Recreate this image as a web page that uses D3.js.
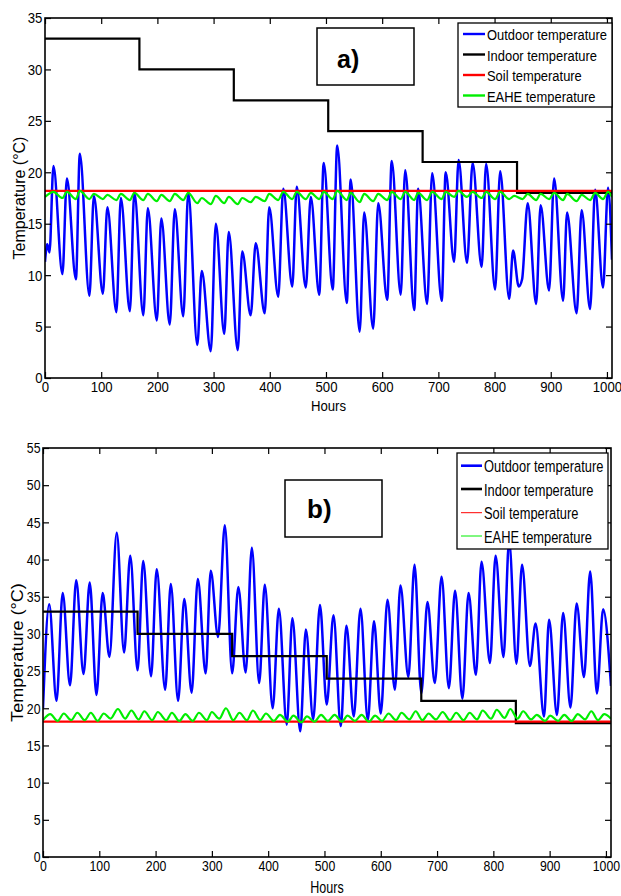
<!DOCTYPE html>
<html><head><meta charset="utf-8">
<script src="https://cdn.jsdelivr.net/npm/d3@7"></script>
<style>body{margin:0;background:#fff} svg{display:block}</style>
</head><body><svg id="c" width="621" height="896"></svg>
<script>
// ---------------- DATA ----------------
const xTicks = [0,100,200,300,400,500,600,700,800,900,1000];
const yTicksA = [0,5,10,15,20,25,30,35];
const yTicksB = [0,5,10,15,20,25,30,35,40,45,50,55];
const seriesNames = ["Outdoor temperature","Indoor temperature","Soil temperature","EAHE temperature"];

// Indoor set-point steps (same in both panels)
const indoorHours = [0,168,336,504,672,840,1009];
const indoorTemps = [33,30,27,24,21,18,18];

// Panel a) – outdoor temperature (daily extrema read from the figure)
const outdoorAHours = [0,4,8,15,31,39,55,62,79,87,103,111,127,135,151,159,175,183,199,207,222,231,246,255,271,279,295,304,319,327,343,351,366,375,391,399,415,424,440,448,464,473,488,496,512,520,537,544,560,568,584,593,609,617,633,641,657,664,680,689,706,713,728,736,751,761,777,785,801,810,826,833,843,849,859,874,882,897,906,922,929,946,955,970,979,993,1002,1009];
const outdoorATemps = [11.3,13.0,12.2,20.6,10.1,19.4,9.6,21.8,8.0,17.7,8.2,16.6,6.4,17.5,6.5,18.0,6.1,16.5,5.6,15.5,5.2,16.4,6.0,18.0,3.2,10.4,2.6,15.0,4.3,14.2,2.7,12.3,6.1,13.1,6.3,16.6,7.9,18.4,8.9,18.6,8.8,17.6,8.1,20.9,8.6,22.6,7.3,19.3,4.5,16.1,4.8,17.0,7.6,21.1,8.1,20.2,6.6,18.4,7.2,19.9,7.5,20.0,11.3,21.2,11.2,20.9,10.8,20.8,8.6,20.1,7.7,12.4,8.9,9.6,17.0,7.2,16.8,8.5,19.4,7.5,16.1,6.3,16.3,6.7,18.3,8.8,18.5,11.5];
const eaheAHours = [0,15,31,39,55,62,79,87,103,111,127,135,151,159,175,183,199,207,222,231,246,255,271,279,295,304,319,327,343,351,366,375,391,399,415,424,440,448,464,473,488,496,512,520,537,544,560,568,584,593,609,617,633,641,657,664,680,689,706,713,728,736,751,761,777,785,801,810,826,835,850,859,874,882,897,906,922,929,946,955,970,979,993,1002,1009];
const eaheATemps = [17.6,18.1,17.5,18.1,17.4,18.2,17.4,17.9,17.4,17.8,17.3,17.9,17.3,18.0,17.3,17.9,17.2,17.8,17.2,17.9,17.3,18.0,17.0,17.5,16.9,17.7,17.0,17.6,16.9,17.5,17.1,17.6,17.2,17.9,17.3,18.1,17.4,18.1,17.4,18.0,17.4,18.1,17.4,18.2,17.3,18.0,17.1,17.9,17.2,17.9,17.3,18.1,17.4,18.1,17.3,18.0,17.3,18.1,17.4,18.1,17.6,18.2,17.6,18.1,17.5,18.1,17.4,18.1,17.4,17.7,17.4,17.9,17.3,17.9,17.4,18.0,17.3,17.9,17.2,17.8,17.3,18.0,17.4,18.1,17.6];
const soilA = 18.2;

// Panel b)
const outdoorBHours = [0,11,24,35,48,59,72,83,95,106,118,131,144,155,168,178,192,202,217,227,240,251,264,275,289,298,311,323,336,347,360,371,384,394,408,419,433,443,457,467,480,492,504,516,529,539,552,564,577,588,600,612,625,635,649,660,672,683,696,708,721,732,745,756,769,779,794,804,818,828,841,851,865,875,890,899,913,924,937,948,961,972,984,995,1009];
const outdoorBTemps = [20.0,34.0,21.0,35.5,23.1,37.2,24.6,36.9,21.8,35.5,26.9,43.6,27.5,40.5,25.1,39.8,24.3,38.7,22.5,36.7,21.0,34.7,22.1,37.4,24.7,38.5,29.6,44.6,24.7,36.3,24.8,41.6,23.4,36.6,20.0,33.4,17.8,32.1,16.9,30.6,18.5,33.9,20.5,32.5,17.6,31.1,18.9,33.4,18.4,31.7,19.3,34.6,22.5,36.5,24.2,39.3,22.0,34.3,23.4,37.7,22.7,35.8,21.3,35.5,24.5,39.7,26.1,40.5,26.9,42.5,26.0,39.3,25.7,31.4,18.9,31.9,19.1,32.8,20.1,34.1,24.2,38.4,22.0,33.3,23.0];
const eaheBHours = [0,13,26,37,50,61,74,85,97,108,120,133,146,157,170,180,194,204,219,229,242,253,266,277,291,300,313,325,338,349,362,373,386,396,410,421,435,445,459,469,482,494,506,518,531,541,554,566,579,590,602,614,627,637,651,662,674,685,698,710,723,734,747,758,771,781,796,806,820,830,843,853,867,877,892,901,915,926,939,950,963,974,986,997,1009];
const eaheBTemps = [18.4,19.2,18.3,19.3,18.4,19.4,18.4,19.4,18.3,19.3,18.6,19.9,18.6,19.7,18.5,19.6,18.4,19.5,18.4,19.4,18.3,19.2,18.3,19.4,18.4,19.5,18.6,20.0,18.4,19.4,18.4,19.7,18.4,19.3,18.3,19.1,18.2,19.0,18.1,18.9,18.2,19.1,18.3,19.1,18.2,19.0,18.3,19.1,18.2,19.0,18.3,19.3,18.4,19.4,18.5,19.6,18.4,19.3,18.5,19.5,18.4,19.4,18.4,19.4,18.5,19.7,18.6,19.8,18.7,19.9,18.6,19.6,18.5,19.1,18.3,19.0,18.3,19.1,18.3,19.2,18.5,19.6,18.4,19.2,18.6];
const soilB = 18.2;

// ---------------- DRAWING ----------------
const FONT = '"Liberation Sans", Arial, Helvetica, sans-serif';
const colors = ["#0000ff","#000000","#ff0000","#00ee00"];
const svg = d3.select('#c');
svg.append('rect').attr('width',621).attr('height',896).attr('fill','#fff');

function txt(g, x, y, s, size, sx, opt={}) {
  return g.append('text')
    .attr('transform', `translate(${x},${y}) scale(${sx},${opt.sy||1})` + (opt.rot ? ` rotate(${opt.rot})` : ''))
    .attr('font-family', FONT).attr('font-size', size)
    .attr('font-weight', opt.bold ? 'bold' : 'normal')
    .attr('text-anchor', opt.anchor || 'start')
    .attr('fill', '#000').text(s);
}

function panel(c) {
  const x = d3.scaleLinear([0,1009],[c.l,c.r]);
  const y = d3.scaleLinear([0,c.ymax],[c.b,c.t]);
  const g = svg.append('g');
  const id = 'clip' + c.name;
  g.append('clipPath').attr('id', id).append('rect')
    .attr('x', c.l).attr('y', c.t).attr('width', c.r - c.l).attr('height', c.b - c.t);

  const line = d3.line().x(d => x(d[0])).y(d => y(d[1])).curve(d3.curveMonotoneX);
  const stepLine = d3.line().x(d => x(d[0])).y(d => y(d[1])).curve(d3.curveStepAfter);
  const plot = g.append('g').attr('clip-path', `url(#${id})`);
  const soilPts = [[0,c.soil],[1009,c.soil]];

  plot.append('path').attr('d', line(d3.zip(c.oh, c.ot)))
    .attr('fill','none').attr('stroke',colors[0]).attr('stroke-width',2.5).attr('stroke-linejoin','round');
  plot.append('path').attr('d', stepLine(d3.zip(indoorHours, indoorTemps)))
    .attr('fill','none').attr('stroke',colors[1]).attr('stroke-width',2.2);
  plot.append('path').attr('d', d3.line().x(d=>x(d[0])).y(d=>y(d[1]))(soilPts))
    .attr('fill','none').attr('stroke',colors[2]).attr('stroke-width',2.2);
  plot.append('path').attr('d', line(d3.zip(c.eh, c.et)))
    .attr('fill','none').attr('stroke',colors[3]).attr('stroke-width',2.2).attr('stroke-linejoin','round');

  // axes (ticks inward on all four sides)
  const styleAxis = (sel) => {
    sel.select('.domain').remove();
    sel.selectAll('.tick line').attr('stroke','#000').attr('stroke-width',1.2);
  };
  const fmt = d3.format('d');
  const bx = g.append('g').attr('transform',`translate(0,${c.b})`)
    .call(d3.axisBottom(x).tickValues(xTicks).tickFormat(fmt).tickSizeInner(-6).tickSizeOuter(0).tickPadding(c.xpad))
    .call(styleAxis);
  bx.attr('font-family', FONT).attr('font-size', c.tickFs);
  bx.selectAll('text').attr('fill','#000').attr('transform',`scale(${c.tickSx},1)`);
  g.append('g').attr('transform',`translate(0,${c.t})`)
    .call(d3.axisTop(x).tickValues(xTicks).tickSizeInner(-6).tickSizeOuter(0).tickFormat(''))
    .call(styleAxis);
  const ly = g.append('g').attr('transform',`translate(${c.l},0)`)
    .call(d3.axisLeft(y).tickValues(c.yTicks).tickFormat(fmt).tickSizeInner(-6).tickSizeOuter(0).tickPadding(c.ypad))
    .call(styleAxis);
  ly.attr('font-family', FONT).attr('font-size', c.tickFs);
  ly.selectAll('text').attr('fill','#000').attr('transform',`scale(${c.tickSx},1)`);
  g.append('g').attr('transform',`translate(${c.r},0)`)
    .call(d3.axisRight(y).tickValues(c.yTicks).tickSizeInner(-6).tickSizeOuter(0).tickFormat(''))
    .call(styleAxis);
  g.append('rect').attr('x',c.l).attr('y',c.t).attr('width',c.r-c.l).attr('height',c.b-c.t)
    .attr('fill','none').attr('stroke','#000').attr('stroke-width',1.6);

  // axis titles
  txt(g, (c.l + c.r) / 2, c.hoursY, 'Hours', c.hoursFs, c.hoursSx, {anchor:'middle'});
  txt(g, c.ylabX, (c.t + c.b) / 2, 'Temperature (°C)', 16, 1, {anchor:'middle', rot:-90, sy:c.ylabSy});

  // panel tag box
  const tb = c.tag;
  g.append('rect').attr('x',tb.x).attr('y',tb.y).attr('width',tb.w).attr('height',tb.h)
    .attr('fill','#fff').attr('stroke','#000').attr('stroke-width',1.5);
  txt(g, tb.tx, tb.ty, tb.label, tb.fs, 1, {bold:true});

  // legend
  const L = c.leg;
  g.append('rect').attr('x',L.x).attr('y',L.y).attr('width',L.w).attr('height',L.h)
    .attr('fill','#fff').attr('stroke','#000').attr('stroke-width',1.3);
  seriesNames.forEach((name, i) => {
    const cy = L.rows[i];
    g.append('line').attr('x1',L.lx0).attr('x2',L.lx1).attr('y1',cy).attr('y2',cy)
      .attr('stroke',colors[i]).attr('stroke-width',L.lw[i]);
    txt(g, L.tx, cy + L.dy, name, L.fs, L.sx);
  });
}

panel({
  name:'A', l:45, r:612, t:18, b:378, ymax:35, yTicks:yTicksA,
  oh:outdoorAHours, ot:outdoorATemps, eh:eaheAHours, et:eaheATemps, soil:soilA,
  tickFs:15.5, tickSx:0.85, xpad:3, ypad:3,
  hoursY:411, hoursFs:15.5, hoursSx:0.85, ylabX:25, ylabSy:1,
  tag:{x:317,y:28,w:97,h:57,tx:337,ty:68,label:'a)',fs:25},
  leg:{x:458,y:23,w:154,h:84,rows:[34,54.5,75,95.5],lx0:463,lx1:485,tx:487,dy:6,fs:15.5,sx:0.834,lw:[2.4,2.4,2.4,2.4]}
});
panel({
  name:'B', l:43, r:611, t:448, b:857, ymax:55, yTicks:yTicksB,
  oh:outdoorBHours, ot:outdoorBTemps, eh:eaheBHours, et:eaheBTemps, soil:soilB,
  tickFs:15, tickSx:0.82, xpad:3, ypad:3,
  hoursY:893, hoursFs:16.5, hoursSx:0.76, ylabX:23, ylabSy:1.13,
  tag:{x:285,y:480,w:97,h:57,tx:307,ty:518,label:'b)',fs:26},
  leg:{x:457,y:453,w:151,h:96,rows:[465.7,489,512.7,536],lx0:461,lx1:482,tx:484,dy:6.5,fs:16.5,sx:0.78,lw:[2.6,2.6,1,1]}
});
</script></body></html>
